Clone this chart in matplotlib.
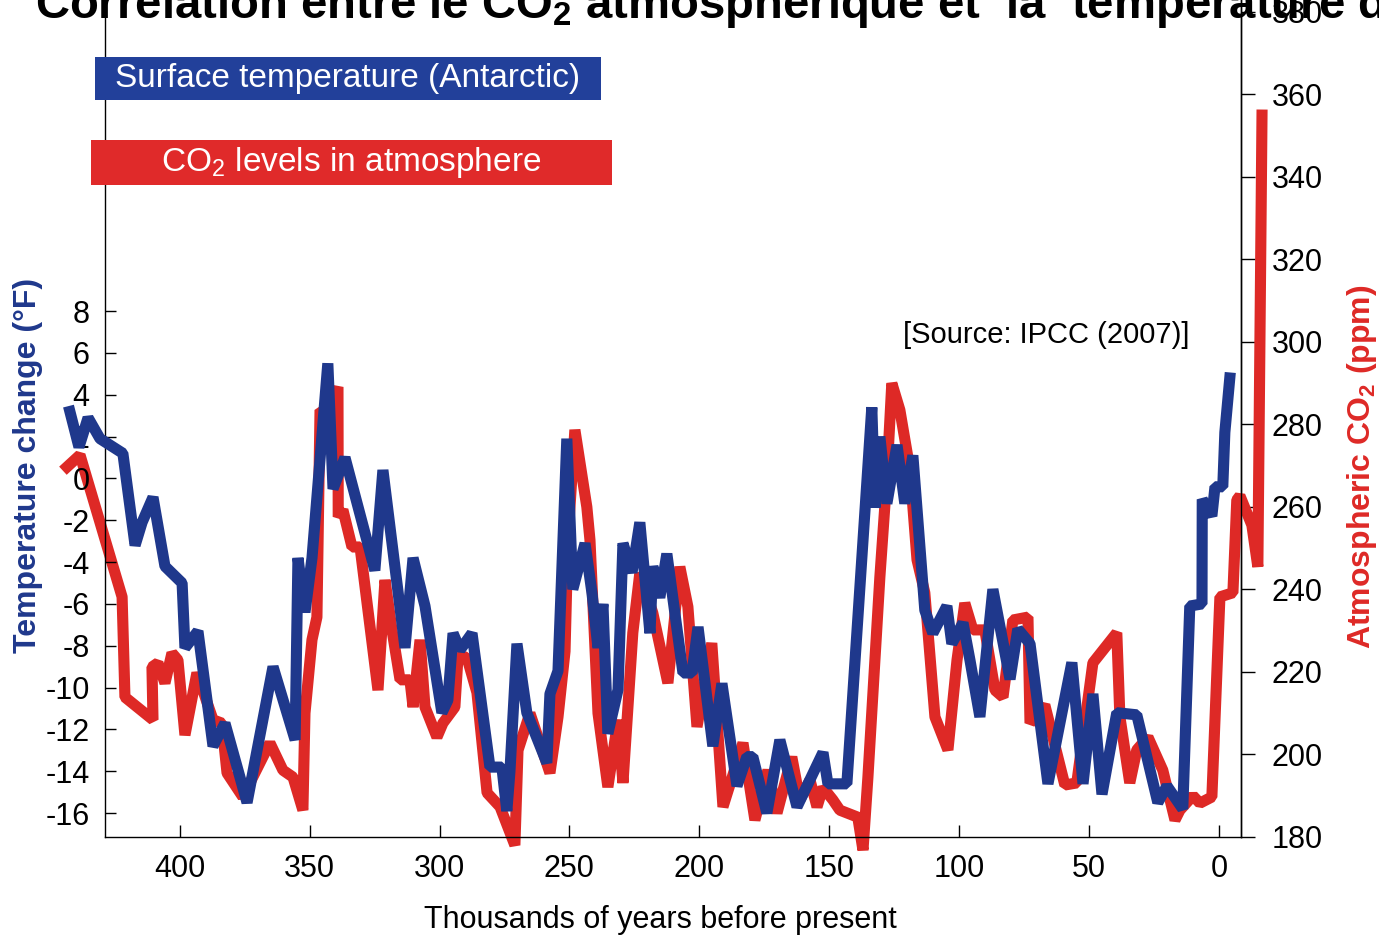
import matplotlib
matplotlib.use("Agg")
import matplotlib.pyplot as plt
from matplotlib.patches import Rectangle

plt.rcParams['font.family'] = ['Liberation Sans', 'DejaVu Sans']
plt.rcParams['mathtext.fontset'] = 'custom'
plt.rcParams['mathtext.rm'] = 'Liberation Sans'
plt.rcParams['mathtext.bf'] = 'Liberation Sans:bold'
plt.rcParams['axes.unicode_minus'] = False

# Antarctic surface temperature (deg F), thousands of years before present
temp_kyr = [442.3, 438.8, 435.3, 430.7, 421.9, 417.2, 414.5, 410.3, 405.7, 399.1,
            398.0, 393.0, 387.2, 382.6, 374.1, 364.1, 355.6, 354.5, 351.8, 349.1,
            343.0, 341.0, 336.4, 324.9, 321.8, 313.3, 310.2, 305.6, 299.1, 296.8,
            294.8, 292.1, 287.5, 280.6, 276.0, 274.1, 272.9, 270.2, 266.4, 258.7,
            257.5, 254.4, 251.0, 248.7, 244.0, 241.3, 239.0, 237.1, 235.2, 231.3,
            229.4, 225.9, 222.9, 219.0, 217.9, 215.2, 212.5, 206.3, 202.8, 200.5,
            194.8, 191.3, 185.5, 181.7, 179.4, 174.0, 169.0, 162.4, 152.4, 150.5,
            143.2, 133.6, 132.4, 130.5, 127.8, 123.9, 120.9, 117.8, 113.2, 110.1,
            104.7, 102.8, 98.5, 95.8, 92.0, 87.0, 80.4, 77.4, 72.7, 65.8,
            56.6, 52.3, 48.5, 45.0, 39.3, 31.6, 23.5, 20.0, 13.9, 11.2,
            6.5, 6.4, 2.7, 1.5, -1.5, -2.3, -4.2]
temp_f = [3.2, 1.5, 2.9, 1.9, 1.2, -3.2, -2.1, -0.9, -4.2, -5.0,
          -8.1, -7.3, -12.8, -11.7, -15.5, -9.0, -12.5, -3.8, -6.4, -3.8,
          5.5, -0.5, 1.0, -4.4, 0.4, -8.1, -3.8, -6.1, -11.2, -10.6,
          -7.4, -8.2, -7.4, -13.8, -13.8, -15.9, -14.0, -7.9, -11.2, -13.6,
          -10.3, -9.2, 1.9, -5.3, -3.1, -5.5, -8.1, -6.0, -12.2, -10.1,
          -3.1, -4.5, -2.1, -7.4, -4.2, -5.7, -3.6, -9.3, -9.3, -7.1,
          -12.8, -9.8, -14.7, -13.3, -13.3, -16.0, -12.5, -15.7, -13.1, -14.6,
          -14.6, 3.4, -1.4, 2.0, -1.2, 1.6, -1.2, 1.1, -6.3, -7.4,
          -6.1, -7.9, -6.9, -8.7, -11.4, -5.3, -9.6, -7.2, -7.9, -14.6,
          -8.8, -14.6, -10.3, -15.1, -11.2, -11.3, -15.5, -14.7, -15.8, -6.1,
          -6.0, -1.0, -1.8, -0.4, -0.4, 2.2, 4.8]

# Atmospheric CO2 (ppm)
co2_kyr = [443.4, 438.4, 422.2, 421.1, 410.3, 410.7, 408.4, 405.7, 403.0, 400.7,
           398.0, 393.4, 387.2, 383.8, 381.8, 375.7, 365.3, 360.3, 356.4, 352.6,
           351.8, 349.1, 347.2, 346.0, 343.0, 339.1, 339.0, 337.2, 333.7, 330.6,
           323.7, 321.0, 318.3, 315.2, 311.4, 310.2, 307.5, 305.6, 301.0, 298.7,
           294.1, 292.9, 289.5, 285.6, 281.7, 276.7, 271.0, 269.8, 265.2, 257.5,
           254.4, 251.7, 250.6, 247.9, 243.3, 242.1, 239.0, 235.2, 231.3, 229.4,
           225.6, 222.9, 217.9, 212.1, 207.5, 204.4, 200.9, 195.2, 190.9, 183.2,
           178.6, 173.6, 170.1, 164.4, 161.3, 157.4, 154.7, 152.4, 148.6, 145.9,
           139.0, 137.0, 135.1, 130.5, 127.8, 125.9, 122.8, 118.9, 116.2, 113.2,
           109.3, 104.3, 100.8, 97.8, 94.7, 90.1, 86.2, 83.1, 79.3, 73.5,
           72.7, 67.0, 59.3, 54.7, 48.5, 39.3, 38.1, 34.3, 31.6, 27.3,
           21.6, 16.9, 15.0, 10.0, 7.3, 2.7, -0.4, -5.4, -6.9, -8.1,
           -12.7, -15.0, -16.6]
co2_ppm = [269.7, 272.6, 238.2, 213.9, 208.4, 221.2, 222.2, 217.3, 224.6, 222.9,
           204.7, 219.8, 208.4, 207.6, 195.5, 189.7, 202.8, 196.2, 194.5, 186.5,
           210.0, 227.8, 233.3, 283.5, 282.8, 289.1, 257.6, 259.3, 250.3, 250.3,
           215.6, 242.3, 230.2, 218.1, 218.1, 211.5, 227.8, 211.5, 204.2, 207.6,
           211.5, 223.6, 223.6, 215.0, 190.7, 187.3, 178.0, 201.0, 210.0, 195.5,
           209.1, 225.0, 252.0, 278.7, 260.0, 252.0, 210.0, 192.1, 208.4, 193.1,
           229.5, 244.0, 234.3, 217.3, 245.5, 235.8, 206.7, 227.0, 187.3, 202.8,
           184.1, 196.2, 185.8, 199.4, 189.0, 193.8, 187.3, 192.0, 189.0, 186.5,
           184.8, 176.8, 194.5, 243.0, 267.3, 290.0, 283.5, 269.0, 247.2, 239.2,
           209.1, 201.1, 222.9, 236.7, 230.2, 230.2, 215.6, 213.9, 232.6, 233.3,
           207.6, 212.0, 192.6, 193.1, 222.2, 229.5, 209.1, 193.1, 201.1, 204.2,
           196.2, 184.1, 186.5, 190.0, 188.2, 189.7, 238.2, 239.2, 261.7, 262.7,
           255.6, 245.5, 355.0]

temp_ticks = [-16, -14, -12, -10, -8, -6, -4, -2, 0, 2, 4, 6, 8]
co2_ticks = [180, 200, 220, 240, 260, 280, 300, 320, 340, 360, 380]
kyr_ticks = [400, 350, 300, 250, 200, 150, 100, 50, 0]

blue = '#1f388c'
red = '#de2926'

fig = plt.figure(figsize=(13.79, 9.38), dpi=100)
ax = fig.add_axes([0.0761, 0.1077, 0.8238, 0.8923])
ax2 = ax.twinx()
ax.set_zorder(ax2.get_zorder() + 1)
ax.patch.set_visible(False)

ax2.plot(co2_kyr, co2_ppm, color=red, lw=8, solid_joinstyle='bevel', clip_on=False, zorder=5)
ax.plot(temp_kyr, temp_f, color=blue, lw=8, solid_joinstyle='bevel', clip_on=False, zorder=5)

ax.set_xlim(428.8, -8.5)
ax.set_ylim(-17.14, 22.87)
ax2.set_ylim(180, 382.9)

ax.set_xticks(kyr_ticks)
ax.set_yticks(temp_ticks)
ax2.set_yticks(co2_ticks)

ax.tick_params(axis='y', direction='in', length=8, width=1, labelsize=22, pad=11)
ax.tick_params(axis='x', direction='in', length=9, width=1, labelsize=22, pad=12)
ax2.tick_params(axis='y', direction='out', length=10, width=1, labelsize=22, pad=12)

for a in (ax, ax2):
    a.spines['top'].set_visible(False)
    for s in a.spines.values():
        s.set_linewidth(1)
ax2.spines['left'].set_visible(False)
ax2.spines['bottom'].set_visible(False)

fig.text(0.0203, 0.504, 'Temperature change (°F)', rotation=90, ha='center', va='center',
         fontsize=23, fontweight='bold', color=blue)
fig.text(0.9877, 0.502, r'Atmospheric CO$_\mathbf{2}$ (ppm)', rotation=90, ha='center', va='center',
         fontsize=23, fontweight='bold', color=red)
fig.text(0.4786, 0.019, 'Thousands of years before present', ha='center', va='center', fontsize=22)

fig.text(0.6548, 0.6429, '[Source: IPCC (2007)]', ha='left', va='center', fontsize=21)

# legend boxes
fig.patches.append(Rectangle((0.0689, 0.8934), 0.3669, 0.0458, transform=fig.transFigure,
                             facecolor='#22409a', edgecolor='none'))
fig.text(0.252, 0.9163, 'Surface temperature (Antarctic)', ha='center', va='center',
         fontsize=24, color='white')
fig.patches.append(Rectangle((0.066, 0.8028), 0.3778, 0.048, transform=fig.transFigure,
                             facecolor='#e02a2a', edgecolor='none'))
fig.text(0.2545, 0.8268, r'CO$_2$ levels in atmosphere', ha='center', va='center',
         fontsize=24, color='white')

fig.text(0.0254, 0.9808, r'Corrélation entre le CO$_\mathbf{2}$ atmosphérique et  la  température de',
         ha='left', va='baseline', fontsize=34, fontweight='bold')

fig.savefig('out.png', dpi=100)
